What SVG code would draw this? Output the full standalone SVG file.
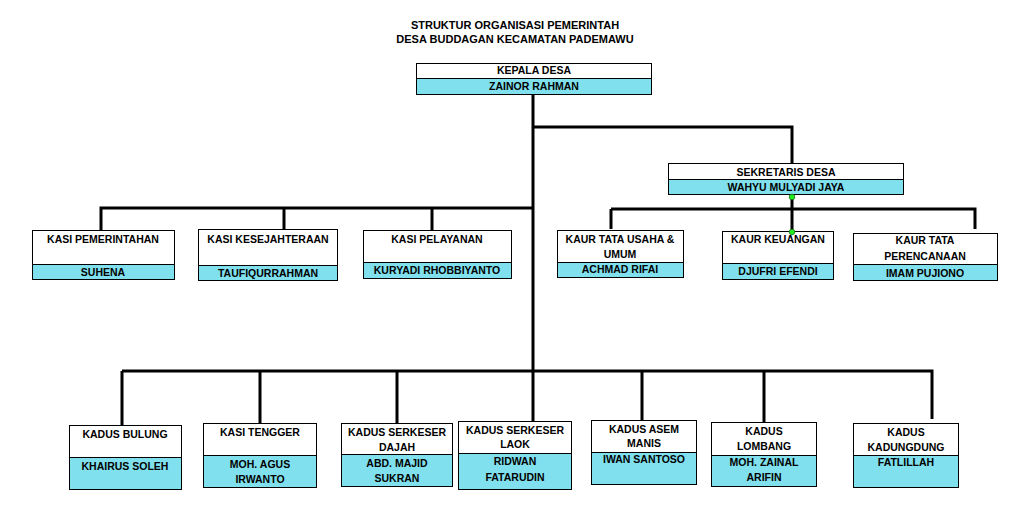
<svg xmlns="http://www.w3.org/2000/svg" width="1032" height="526" viewBox="0 0 1032 526">
<style>
.bg{fill:#fff}
.top{fill:#fff;stroke:#000;stroke-width:1}
.nm{fill:#80E0EE;stroke:#000;stroke-width:1}
text{font-family:"Liberation Sans",Arial,sans-serif;font-weight:bold;font-size:10.5px;fill:#000;text-anchor:middle}
.title{font-size:11px}
.ln{fill:none;stroke:#000;stroke-width:3}
.dot{fill:#22EE22;stroke:#117711;stroke-width:0.8}
</style>
<rect class="bg" x="0" y="0" width="1032" height="526"/>
<g id="title">
<text class="title" x="515" y="29">STRUKTUR ORGANISASI PEMERINTAH</text>
<text class="title" x="515" y="43">DESA BUDDAGAN KECAMATAN PADEMAWU</text>
</g>
<g id="connectors">
<path class="ln" d="M533 95 V371"/>
<path class="ln" d="M533 127 H792 V163"/>
<path class="ln" d="M533 208 H101 V230 M284 208 V230 M432 208 V230"/>
<path class="ln" d="M792 194 V231 M611 209 H975 V229 M611 209 V229"/>
<path class="ln" d="M122 371 H932 V419 M122 371 V425 M260 371 V423 M397 371 V423 M533 371 V422 M642 371 V421 M764 371 V422"/>
</g>
<g id="kepala-desa">
<rect class="top" x="416.5" y="63.5" width="235" height="15"/>
<rect class="nm" x="416.5" y="78.5" width="235" height="16"/>
<text x="534" y="74">KEPALA DESA</text>
<text x="534" y="90">ZAINOR RAHMAN</text>
</g>
<g id="sekretaris-desa">
<rect class="top" x="668.5" y="163.5" width="235" height="16"/>
<rect class="nm" x="668.5" y="179.5" width="235" height="15"/>
<text x="786" y="176">SEKRETARIS DESA</text>
<text x="786" y="191">WAHYU MULYADI JAYA</text>
</g>
<g id="kasi-pemerintahan">
<rect class="top" x="32.5" y="230.5" width="142" height="34"/>
<rect class="nm" x="32.5" y="264.5" width="142" height="15"/>
<text x="103" y="243">KASI PEMERINTAHAN</text>
<text x="103" y="276">SUHENA</text>
</g>
<g id="kasi-kesejahteraan">
<rect class="top" x="198.5" y="229.5" width="139" height="36"/>
<rect class="nm" x="198.5" y="265.5" width="139" height="15"/>
<text x="268" y="243">KASI KESEJAHTERAAN</text>
<text x="268" y="277">TAUFIQURRAHMAN</text>
</g>
<g id="kasi-pelayanan">
<rect class="top" x="363.5" y="230.5" width="148" height="32"/>
<rect class="nm" x="363.5" y="262.5" width="148" height="16"/>
<text x="437" y="243">KASI PELAYANAN</text>
<text x="437" y="274">KURYADI RHOBBIYANTO</text>
</g>
<g id="kaur-tata-usaha">
<rect class="top" x="557.5" y="230.5" width="126" height="32"/>
<rect class="nm" x="557.5" y="262.5" width="126" height="15"/>
<text x="620" y="243">KAUR TATA USAHA &amp;</text>
<text x="620" y="258">UMUM</text>
<text x="620" y="273">ACHMAD RIFAI</text>
</g>
<g id="kaur-keuangan">
<rect class="top" x="722.5" y="231.5" width="111" height="32"/>
<rect class="nm" x="722.5" y="263.5" width="111" height="16"/>
<text x="778" y="243">KAUR KEUANGAN</text>
<text x="778" y="275">DJUFRI EFENDI</text>
</g>
<g id="kaur-perencanaan">
<rect class="top" x="853.5" y="233.5" width="144" height="31"/>
<rect class="nm" x="853.5" y="264.5" width="144" height="16"/>
<text x="925" y="244">KAUR TATA</text>
<text x="925" y="260">PERENCANAAN</text>
<text x="925" y="277">IMAM PUJIONO</text>
</g>
<g id="kadus-bulung">
<rect class="top" x="69.5" y="425.5" width="112" height="32"/>
<rect class="nm" x="69.5" y="457.5" width="112" height="32"/>
<text x="125" y="438">KADUS BULUNG</text>
<text x="125" y="470">KHAIRUS SOLEH</text>
</g>
<g id="kasi-tengger">
<rect class="top" x="203.5" y="423.5" width="113" height="32"/>
<rect class="nm" x="203.5" y="455.5" width="113" height="32"/>
<text x="260" y="436">KASI TENGGER</text>
<text x="260" y="468">MOH. AGUS</text>
<text x="260" y="483">IRWANTO</text>
</g>
<g id="kadus-serkeser-dajah">
<rect class="top" x="341.5" y="423.5" width="111" height="31"/>
<rect class="nm" x="341.5" y="454.5" width="111" height="32"/>
<text x="397" y="436">KADUS SERKESER</text>
<text x="397" y="451">DAJAH</text>
<text x="397" y="467">ABD. MAJID</text>
<text x="397" y="482">SUKRAN</text>
</g>
<g id="kadus-serkeser-laok">
<rect class="top" x="458.5" y="421.5" width="113" height="32"/>
<rect class="nm" x="458.5" y="453.5" width="113" height="36"/>
<text x="515" y="434">KADUS SERKESER</text>
<text x="515" y="448">LAOK</text>
<text x="515" y="465">RIDWAN</text>
<text x="515" y="481">FATARUDIN</text>
</g>
<g id="kadus-asem-manis">
<rect class="top" x="591.5" y="420.5" width="105" height="32"/>
<rect class="nm" x="591.5" y="452.5" width="105" height="32"/>
<text x="644" y="433">KADUS ASEM</text>
<text x="644" y="447">MANIS</text>
<text x="644" y="463">IWAN SANTOSO</text>
</g>
<g id="kadus-lombang">
<rect class="top" x="711.5" y="422.5" width="105" height="33"/>
<rect class="nm" x="711.5" y="455.5" width="105" height="31"/>
<text x="764" y="435">KADUS</text>
<text x="764" y="450">LOMBANG</text>
<text x="764" y="466">MOH. ZAINAL</text>
<text x="764" y="481">ARIFIN</text>
</g>
<g id="kadus-kadungdung">
<rect class="top" x="853.5" y="423.5" width="105" height="32"/>
<rect class="nm" x="853.5" y="455.5" width="105" height="32"/>
<text x="906" y="436">KADUS</text>
<text x="906" y="451">KADUNGDUNG</text>
<text x="906" y="466">FATLILLAH</text>
</g>
<g id="connector-handles">
<circle class="dot" cx="792" cy="197" r="2.8"/>
<circle class="dot" cx="792" cy="232" r="2.8"/>
</g>
</svg>
